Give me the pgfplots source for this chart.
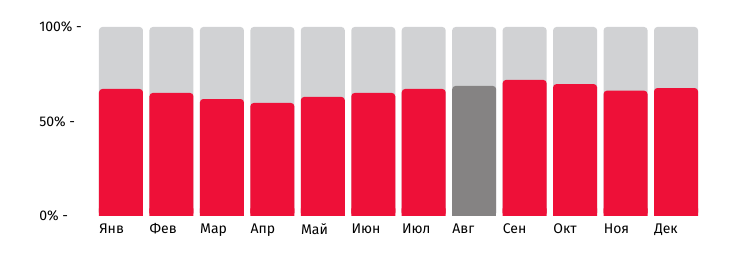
\documentclass[border=0pt]{standalone}
\usepackage{pgfplots}
\pgfplotsset{compat=1.18}
\usepackage{fontspec}
\setmainfont{Fira Sans}
\definecolor{redbar}{HTML}{EE1038}
\definecolor{bgbar}{HTML}{D1D2D4}
\definecolor{augbar}{HTML}{858383}
\begin{document}
\begin{tikzpicture}
\path[use as bounding box] (-74.25pt,-43.5pt) rectangle (492pt,162pt);
\begin{axis}[
  at={(0,0)}, anchor=south west,
  scale only axis, width=449.25pt, height=141.75pt,
  xmin=-0.436, xmax=11.436, ymin=0, ymax=100,
  axis line style={draw=none}, major tick length=0pt,
  ytick={0,50,100}, yticklabels={0\% -,50\% -,100\% -},
  yticklabel style={anchor=west, inner sep=0pt, xshift=-45pt, font=\fontsize{10.5}{12}\selectfont},
  xtick={0,...,11},
  xticklabels={Янв,Фев,Мар,Апр,Май,Июн,Июл,Авг,Сен,Окт,Ноя,Дек},
  xticklabel style={anchor=north west, inner sep=0pt, xshift=-16.5pt, yshift=-5.5pt, font=\fontsize{10.5}{12}\selectfont},
  /pgf/number format/assume math mode=true,
  bar width=33pt,
]
\addplot[ybar, bar shift=0pt, fill=bgbar, draw=none, rounded corners=2.5pt] coordinates {(0,100)(1,100)(2,100)(3,100)(4,100)(5,100)(6,100)(7,100)(8,100)(9,100)(10,100)(11,100)};
\addplot[ybar, bar shift=0pt, fill=redbar, draw=none, rounded corners=2.5pt] coordinates {(0,67.2)(1,65.1)(2,61.9)(3,59.8)(4,63.0)(5,65.1)(6,67.2)(8,72.0)(9,69.8)(10,66.3)(11,67.7)};
\addplot[ybar, bar shift=0pt, fill=redbar, draw=none] coordinates {(0,4)(1,4)(2,4)(3,4)(4,4)(5,4)(6,4)(8,4)(9,4)(10,4)(11,4)};
\addplot[ybar, bar shift=0pt, fill=augbar, draw=none, rounded corners=2.5pt] coordinates {(7,68.8)};
\addplot[ybar, bar shift=0pt, fill=augbar, draw=none] coordinates {(7,4)};
\end{axis}
\end{tikzpicture}
\end{document}
